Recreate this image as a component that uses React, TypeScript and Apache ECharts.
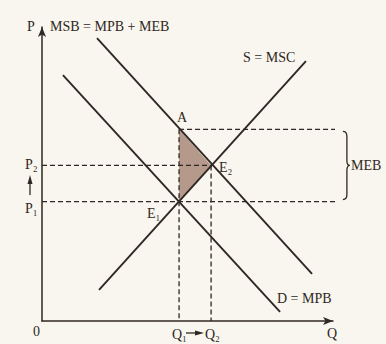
import React, { useEffect, useRef } from "react";
import * as echarts from "echarts";

// Curves (Q, P) in chart units
const msbLine: number[][] = [[1.89, 9.62], [9.28, 1.6]];
const mpbLine: number[][] = [[0.72, 8.36], [8.18, 0.31]];
const mscLine: number[][] = [[1.96, 1.06], [9.07, 8.84]];
// Key points
const pointA: number[] = [4.71, 6.52];
const pointE1: number[] = [4.71, 4.06];
const pointE2: number[] = [5.81, 5.29];
const dashRightEnd = 10.17;
const braceX = 10.34;

const INK = "#2f2723";
const FONT = '"Liberation Serif", "DejaVu Serif", serif';

export default function App() {
  const ref = useRef<HTMLDivElement>(null);
  useEffect(() => {
    if (!ref.current) return;
    const chart = echarts.init(ref.current, undefined, { renderer: "svg" });
    const dashed = (name: string, data: number[][]) => ({
      type: "line",
      name,
      data,
      symbol: "none",
      clip: false,
      silent: true,
      lineStyle: { color: INK, width: 1.3, type: [5, 3] },
      z: 2,
    });
    const solid = (name: string, data: number[][]) => ({
      type: "line",
      name,
      data,
      symbol: "none",
      clip: false,
      silent: true,
      lineStyle: { color: INK, width: 1.9 },
      z: 3,
    });
    const txt = (text: string, x: number, y: number, size = 14, align = "left") => ({
      type: "text",
      x,
      y,
      silent: true,
      style: {
        text,
        fill: INK,
        font: `${size}px ${FONT}`,
        textAlign: align,
        textVerticalAlign: "middle",
      },
    });
    const option: any = {
      animation: false,
      backgroundColor: "#f8f6ee",
      grid: { left: 42, top: 27, right: 53, bottom: 23 },
      xAxis: {
        type: "value",
        min: 0,
        max: 10,
        splitLine: { show: false },
        axisTick: { show: false },
        axisLabel: { show: false },
        axisLine: {
          show: true,
          symbol: ["none", "arrow"],
          symbolSize: [6, 10],
          lineStyle: { color: INK, width: 1.5 },
        },
      },
      yAxis: {
        type: "value",
        min: 0,
        max: 10,
        splitLine: { show: false },
        axisTick: { show: false },
        axisLabel: { show: false },
        axisLine: {
          show: true,
          symbol: ["none", "arrow"],
          symbolSize: [6, 10],
          lineStyle: { color: INK, width: 1.5 },
        },
      },
      series: [
        {
          type: "custom",
          name: "MEB area",
          silent: true,
          z: 1,
          data: [[pointA[0], pointA[1], pointE2[0], pointE2[1], pointE1[0], pointE1[1]]],
          renderItem: (params: any, api: any) => {
            const a = api.coord([api.value(0), api.value(1)]);
            const b = api.coord([api.value(2), api.value(3)]);
            const c = api.coord([api.value(4), api.value(5)]);
            return {
              type: "polygon",
              shape: { points: [a, b, c] },
              style: { fill: "#ad8f7f", opacity: 0.9 },
            };
          },
        },
        dashed("A level", [pointA, [dashRightEnd, pointA[1]]]),
        dashed("P2", [[0, pointE2[1]], pointE2]),
        dashed("P1", [[0, pointE1[1]], [dashRightEnd, pointE1[1]]]),
        dashed("Q1", [pointA, [pointA[0], 0]]),
        dashed("Q2", [pointE2, [pointE2[0], 0]]),
        solid("MSB", msbLine),
        solid("MPB", mpbLine),
        solid("MSC", mscLine),
        {
          type: "custom",
          name: "brace",
          silent: true,
          clip: false,
          data: [[braceX, pointA[1] - 0.07, pointE1[1] + 0.07]],
          renderItem: (params: any, api: any) => {
            const t = api.coord([api.value(0), api.value(1)]);
            const b = api.coord([api.value(0), api.value(2)]);
            const x = t[0];
            const y0 = t[1];
            const y1 = b[1];
            const m = (y0 + y1) / 2;
            const d = `M${x} ${y0} Q${x + 4} ${y0} ${x + 4} ${y0 + 5} L${x + 4} ${m - 5} Q${x + 4} ${m} ${x + 7} ${m} Q${x + 4} ${m} ${x + 4} ${m + 5} L${x + 4} ${y1 - 5} Q${x + 4} ${y1} ${x} ${y1}`;
            return {
              type: "path",
              shape: { pathData: d },
              style: { fill: "none", stroke: INK, lineWidth: 1.3 },
            };
          },
        },
      ],
      graphic: [
        txt("P", 27, 26),
        txt("MSB = MPB + MEB", 50, 26),
        txt("S = MSC", 243, 57),
        txt("A", 177, 117),
        txt("E₂", 219, 167),
        txt("E₁", 147, 213),
        txt("P₂", 25, 164),
        txt("P₁", 25, 208),
        txt("MEB", 351, 165),
        txt("D = MPB", 277, 298),
        txt("Q", 327, 333),
        txt("0", 33, 331),
        txt("Q₁", 172, 334),
        txt("Q₂", 205, 334),
        {
          type: "line",
          silent: true,
          shape: { x1: 30, y1: 195, x2: 30, y2: 182 },
          style: { stroke: INK, lineWidth: 1.3 },
        },
        {
          type: "polygon",
          silent: true,
          shape: { points: [[27.5, 184], [30, 175], [32.5, 184]] },
          style: { fill: INK },
        },
        {
          type: "line",
          silent: true,
          shape: { x1: 186, y1: 333, x2: 196, y2: 333 },
          style: { stroke: INK, lineWidth: 1.3 },
        },
        {
          type: "polygon",
          silent: true,
          shape: { points: [[195, 330.5], [204, 333], [195, 335.5]] },
          style: { fill: INK },
        },
      ],
    };
    chart.setOption(option);
    return () => chart.dispose();
  }, []);
  return (
    <div
      ref={ref}
      style={{ position: "fixed", left: 0, top: 0, width: 386, height: 344 }}
    />
  );
}
